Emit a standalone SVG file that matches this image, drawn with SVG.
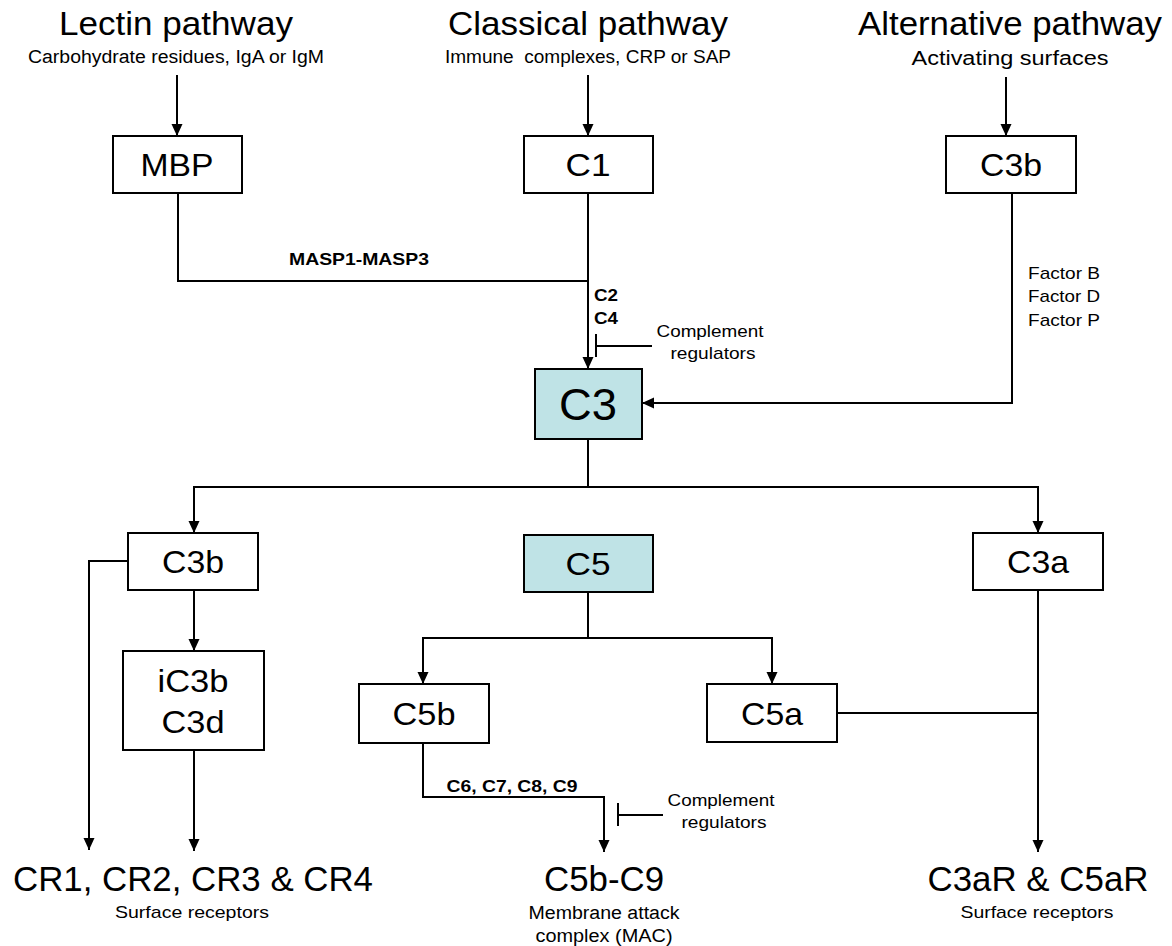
<svg xmlns="http://www.w3.org/2000/svg" width="1172" height="946" viewBox="0 0 1172 946">
<style>
text{font-family:"Liberation Sans",Arial,Helvetica,sans-serif;fill:#000;text-anchor:middle}
.title{font-size:33px}
.sub{font-size:18px}
.lbl{font-size:32px}
.big{font-size:35px}
.small{font-size:17px}
.bold{font-size:17px;font-weight:bold}
.box{fill:#fff;stroke:#000;stroke-width:2}
.hl{fill:#bfe3e6;stroke:#000;stroke-width:2}
.ln{fill:none;stroke:#000;stroke-width:2}
.arr{fill:none;stroke:#000;stroke-width:2;marker-end:url(#ah)}
</style>
<defs>
<marker id="ah" markerUnits="userSpaceOnUse" markerWidth="12" markerHeight="12" refX="12" refY="6" orient="auto">
<path d="M0,0.5 L12,6 L0,11.5 z" fill="#000"/>
</marker>
</defs>
<rect width="1172" height="946" fill="#fff"/>

<g id="headers">
<text class="title" x="176" y="35" textLength="234" lengthAdjust="spacingAndGlyphs">Lectin pathway</text>
<text class="sub" x="176" y="63" textLength="296" lengthAdjust="spacingAndGlyphs">Carbohydrate residues, IgA or IgM</text>
<text class="title" x="588" y="35" textLength="280" lengthAdjust="spacingAndGlyphs">Classical pathway</text>
<text class="sub" x="588" y="63" textLength="286" lengthAdjust="spacingAndGlyphs" xml:space="preserve">Immune  complexes, CRP or SAP</text>
<text class="title" x="1010" y="35" textLength="304" lengthAdjust="spacingAndGlyphs">Alternative pathway</text>
<text style="font-size:20px" x="1010" y="65" textLength="197" lengthAdjust="spacingAndGlyphs">Activating surfaces</text>
</g>

<g id="connectors">
<line class="arr" x1="177" y1="75" x2="177" y2="136"/>
<line class="arr" x1="588" y1="75" x2="588" y2="136"/>
<line class="arr" x1="1006" y1="77" x2="1006" y2="136"/>
<polyline class="ln" points="178,193 178,281 588,281"/>
<line class="arr" x1="588" y1="193" x2="588" y2="369"/>
<polyline class="arr" points="1012,193 1012,403 642,403"/>
<line class="ln" x1="596" y1="346" x2="652" y2="346"/>
<line class="ln" x1="596" y1="334" x2="596" y2="357"/>
<line class="ln" x1="588" y1="439" x2="588" y2="487"/>
<polyline class="arr" points="588,487 194,487 194,533"/>
<polyline class="arr" points="588,487 1038,487 1038,533"/>
<polyline class="arr" points="128,561 89,561 89,850"/>
<line class="arr" x1="194" y1="590" x2="194" y2="651"/>
<line class="arr" x1="194" y1="750" x2="194" y2="851"/>
<line class="ln" x1="588" y1="592" x2="588" y2="638"/>
<polyline class="arr" points="588,638 423,638 423,684"/>
<polyline class="arr" points="588,638 772,638 772,684"/>
<polyline class="arr" points="423,743 423,797 604,797 604,852"/>
<line class="ln" x1="618" y1="815" x2="663" y2="815"/>
<line class="ln" x1="618" y1="803" x2="618" y2="826"/>
<line class="arr" x1="1038" y1="590" x2="1038" y2="852"/>
<line class="ln" x1="837" y1="713" x2="1038" y2="713"/>
</g>

<g id="connector-labels">
<text class="bold" x="359" y="265" textLength="140" lengthAdjust="spacingAndGlyphs">MASP1-MASP3</text>
<text class="bold" x="606" y="301" textLength="24" lengthAdjust="spacingAndGlyphs">C2</text>
<text class="bold" x="606" y="324" textLength="24" lengthAdjust="spacingAndGlyphs">C4</text>
<text class="small" x="710" y="337" textLength="107" lengthAdjust="spacingAndGlyphs">Complement</text>
<text class="small" x="713" y="359" textLength="85" lengthAdjust="spacingAndGlyphs">regulators</text>
<text class="small" x="1028" y="279" style="text-anchor:start" textLength="72" lengthAdjust="spacingAndGlyphs">Factor B</text>
<text class="small" x="1028" y="302" style="text-anchor:start" textLength="72" lengthAdjust="spacingAndGlyphs">Factor D</text>
<text class="small" x="1028" y="326" style="text-anchor:start" textLength="72" lengthAdjust="spacingAndGlyphs">Factor P</text>
<text class="bold" x="512" y="792" textLength="131" lengthAdjust="spacingAndGlyphs">C6, C7, C8, C9</text>
<text class="small" x="721" y="806" textLength="107" lengthAdjust="spacingAndGlyphs">Complement</text>
<text class="small" x="724" y="828" textLength="85" lengthAdjust="spacingAndGlyphs">regulators</text>
</g>

<g id="node-MBP"><rect class="box" x="113" y="136" width="129" height="57"/><text class="lbl" x="177" y="176" textLength="73" lengthAdjust="spacingAndGlyphs">MBP</text></g>
<g id="node-C1"><rect class="box" x="524" y="136" width="129" height="57"/><text class="lbl" x="588" y="176" textLength="45" lengthAdjust="spacingAndGlyphs">C1</text></g>
<g id="node-C3b-top"><rect class="box" x="946" y="136" width="130" height="57"/><text class="lbl" x="1011" y="176" textLength="62" lengthAdjust="spacingAndGlyphs">C3b</text></g>
<g id="node-C3"><rect class="hl" x="535" y="369" width="107" height="70"/><text style="font-size:44px" x="588" y="420" textLength="58" lengthAdjust="spacingAndGlyphs">C3</text></g>
<g id="node-C3b"><rect class="box" x="128" y="533" width="130" height="57"/><text class="lbl" x="193" y="573" textLength="62" lengthAdjust="spacingAndGlyphs">C3b</text></g>
<g id="node-C5"><rect class="hl" x="524" y="535" width="129" height="57"/><text class="lbl" x="588" y="575" textLength="45" lengthAdjust="spacingAndGlyphs">C5</text></g>
<g id="node-C3a"><rect class="box" x="973" y="533" width="130" height="57"/><text class="lbl" x="1038" y="573" textLength="62" lengthAdjust="spacingAndGlyphs">C3a</text></g>
<g id="node-iC3b"><rect class="box" x="123" y="651" width="141" height="99"/><text class="lbl" x="193" y="692" textLength="71" lengthAdjust="spacingAndGlyphs">iC3b</text><text class="lbl" x="193" y="733" textLength="63" lengthAdjust="spacingAndGlyphs">C3d</text></g>
<g id="node-C5b"><rect class="box" x="359" y="684" width="130" height="59"/><text class="lbl" x="424" y="725" textLength="63" lengthAdjust="spacingAndGlyphs">C5b</text></g>
<g id="node-C5a"><rect class="box" x="707" y="684" width="130" height="58"/><text class="lbl" x="772" y="725" textLength="62" lengthAdjust="spacingAndGlyphs">C5a</text></g>

<g id="node-CR">
<text class="big" x="193" y="891" textLength="360" lengthAdjust="spacingAndGlyphs">CR1, CR2, CR3 &amp; CR4</text>
<text class="small" x="192" y="918" textLength="154" lengthAdjust="spacingAndGlyphs">Surface receptors</text>
</g>
<g id="node-MAC">
<text class="big" x="604" y="891" textLength="120" lengthAdjust="spacingAndGlyphs">C5b-C9</text>
<text class="sub" x="604" y="919" textLength="151" lengthAdjust="spacingAndGlyphs">Membrane attack</text>
<text class="sub" x="604" y="942" textLength="137" lengthAdjust="spacingAndGlyphs">complex (MAC)</text>
</g>
<g id="node-C3aR">
<text class="big" x="1038" y="891" textLength="221" lengthAdjust="spacingAndGlyphs">C3aR &amp; C5aR</text>
<text class="small" x="1037" y="918" textLength="153" lengthAdjust="spacingAndGlyphs">Surface receptors</text>
</g>
</svg>
